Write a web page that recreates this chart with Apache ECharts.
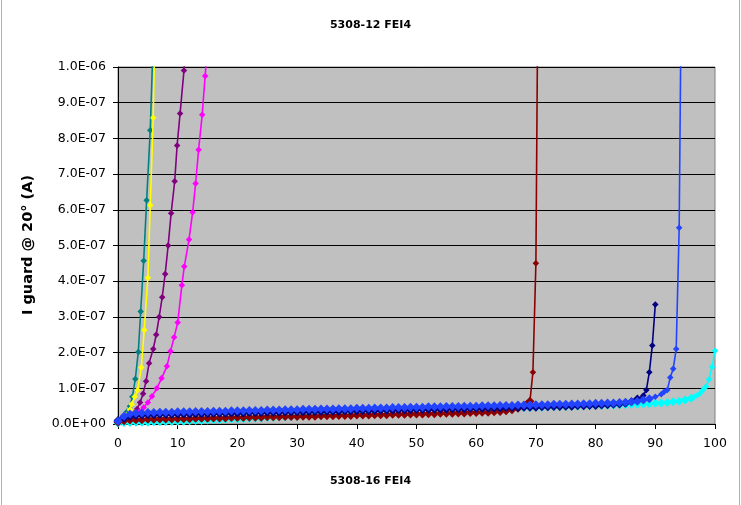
<!DOCTYPE html>
<html><head><meta charset="utf-8">
<script src="https://cdn.jsdelivr.net/npm/echarts@6/dist/echarts.min.js"></script>
<style>html,body{margin:0;padding:0;background:#fff}#c{width:741px;height:505px}</style>
</head><body><div id="c"></div>
<script>
// Currents in nA, voltages in V
const title = '5308-12 FEI4';
const xName = '5308-16 FEI4';
const yName = 'I guard @ 20° (A)';
const yTickLabels = ['0.0E+00','1.0E-07','2.0E-07','3.0E-07','4.0E-07','5.0E-07','6.0E-07','7.0E-07','8.0E-07','9.0E-07','1.0E-06'];
const xTickLabels = ['0','10','20','30','40','50','60','70','80','90','100'];

const tealV = [0,0.5,1,1.5,2,2.4,2.9,3.4,3.8,4.3,4.8,5.4,5.9];
const tealI = [8,14,22,34,50,76,126,202,315,457,627,823,1080];

const yellowV = [0,0.5,1,1.5,2,2.3,2.8,3.3,3.9,4.4,5,5.4,5.9,6.4];
const yellowI = [5,10,16,25,40,55,76,95,158,263,410,613,858,1300];

const purpleV = [0.2,0.7,1.2,1.7,2.2,2.7,3.2,3.7,4.2,4.7,5.2,5.9,6.4,6.9,7.4,7.9,8.4,8.9,9.5,9.9,10.4,11.05,11.5];
const purpleI = [3,6,9,14,20,30,42,60,85,120,170,210,250,300,355,420,500,590,680,780,870,990,1120];

const magentaV = [0,0.6,1.2,1.8,2.4,3,3.6,4.3,5,5.7,6.5,7.3,8.2,8.8,9.4,10,10.7,11.1,11.9,12.5,13,13.5,14.1,14.6,15.1];
const magentaI = [3,5,8,13,19,26,35,46,60,78,100,128,162,204,243,284,389,441,517,593,674,768,866,975,1090];

const redV = [0,1,2,3,4,5,6,7,8,9,10,11,12,13,14,15,16,17,18,19,20,21,22,23,24,25,26,27,28,29,30,31,32,33,34,35,36,37,38,39,40,41,42,43,44,45,46,47,48,49,50,51,52,53,54,55,56,57,58,59,60,61,62,63,64,65,66,67,68,68.5,69,69.5,70,70.5];
const redI = [5,9,11,12,12,13,13,14,14,14, 15,15,15,16,16,16,17,17,17,18, 18,18,19,19,19,20,20,20,21,21, 21,22,22,22,23,23,23,24,24,24, 25,25,25,26,26,26,27,27,27,28, 28,28,29,29,30,30,30,31,31,32, 32,33,33,34,35,37,40,44,50, 55,64,145,450,1600];

const navyV = [0,1,2,3,4,5,6,7,8,9,10,11,12,13,14,15,16,17,18,19,20,21,22,23,24,25,26,27,28,29,30,31,32,33,34,35,36,37,38,39,40,41,42,43,44,45,46,47,48,49,50,51,52,53,54,55,56,57,58,59,60,61,62,63,64,65,66,67,68,69,70,71,72,73,74,75,76,77,78,79,80,81,82,83,84,85,86,87,88,88.5,89,89.5,90];
const navyI = [10,16,21,24,25,26,26,27,27,27, 28,28,28,29,29,29,30,30,30,31, 31,31,32,32,32,33,33,33,34,34, 34,34,35,35,35,36,36,36,37,37, 37,38,38,38,39,39,39,40,40,40, 41,41,41,42,42,42,43,43,43,44, 44,44,45,45,45,46,46,46,47,47, 47,48,48,49,49,50,50,51,51,52, 52,53,54,55,56,58,62,70,80, 95,145,220,335];

const cyanV = [0,1,2,3,4,5,6,7,8,9,10,11,12,13,14,15,16,17,18,19,20,21,22,23,24,25,26,27,28,29,30,31,32,33,34,35,36,37,38,39,40,41,42,43,44,45,46,47,48,49,50,51,52,53,54,55,56,57,58,59,60,61,62,63,64,65,66,67,68,69,70,71,72,73,74,75,76,77,78,79,80,81,82,83,84,85,86,87,88,89,90,91,92,93,94,95,96,96.5,97,97.5,98,98.5,99,99.5,100];
const cyanI = [3,4,4,5,5,5,6,6,7,7, 8,8,9,10,10,11,12,12,13,14, 14,15,16,17,17,18,19,20,20,21, 22,23,23,24,25,26,26,27,28,29, 29,30,31,31,32,33,33,34,35,35, 36,37,37,38,38,39,40,40,41,41, 42,42,43,43,44,44,45,45,46,46, 47,47,48,48,49,49,50,50,51,51, 52,52,53,53,54,54,55,55,56,57, 58,59,60,62,64,67,72, 76,80,86,96,105,125,160,205];

const blueV = [0,1,2,3,4,5,6,7,8,9,10,11,12,13,14,15,16,17,18,19,20,21,22,23,24,25,26,27,28,29,30,31,32,33,34,35,36,37,38,39,40,41,42,43,44,45,46,47,48,49,50,51,52,53,54,55,56,57,58,59,60,61,62,63,64,65,66,67,68,69,70,71,72,73,74,75,76,77,78,79,80,81,82,83,84,85,86,87,88,89,90,91,91.5,92,92.5,93,93.5,94,94.5];
const blueI = [8,22,28,30,31,32,32,33,33,33, 34,34,34,35,35,35,36,36,36,37, 37,37,38,38,38,39,39,39,40,40, 40,41,41,41,42,42,42,43,43,43, 44,44,44,45,45,45,46,46,46,47, 47,47,48,48,48,49,49,49,50,50, 50,51,51,51,52,52,52,53,53,53, 54,54,54,55,55,55,56,56,57,57, 58,58,59,59,60,61,62,64,67,71, 76,83, 90,95,130,155,210,550,1500];

const seriesDefs = [
  {name:'teal', color:'#008080', V:tealV, I:tealI, dense:false},
  {name:'yellow', color:'#FFFF00', V:yellowV, I:yellowI, dense:false},
  {name:'purple', color:'#800080', V:purpleV, I:purpleI, dense:false},
  {name:'magenta', color:'#FF00FF', V:magentaV, I:magentaI, dense:false},
  {name:'cyan', color:'#00FFFF', V:cyanV, I:cyanI, dense:true},
  {name:'darkred', color:'#8B0000', V:redV, I:redI, dense:true},
  {name:'navy', color:'#000080', V:navyV, I:navyI, dense:true},
  {name:'blue', color:'#2244FF', V:blueV, I:blueI, dense:true}
];

const chart = echarts.init(document.getElementById('c'), null, {renderer:'canvas'});
const lblFont = {fontFamily:'DejaVu Sans', fontSize:12.5, color:'#000'};
chart.setOption({
  animation:false,
  backgroundColor:'#fff',
  title:[
    {text:title, left:'center', top:15, textStyle:{fontFamily:'DejaVu Sans', fontWeight:'bold', fontSize:11, color:'#000'}},
    {text:xName, left:'center', top:471, textStyle:{fontFamily:'DejaVu Sans', fontWeight:'bold', fontSize:11, color:'#000'}}
  ],
  grid:{left:118, right:26, top:67, bottom:81, show:true, backgroundColor:'#C0C0C0', borderColor:'#808080', borderWidth:1},
  xAxis:{type:'value', min:0, max:100, interval:10,
    axisLine:{show:true, onZero:false, lineStyle:{color:'#000', width:1}},
    axisTick:{show:true, inside:false, length:5, lineStyle:{color:'#000'}},
    axisLabel:{...lblFont, margin:13, formatter:(v)=>xTickLabels[Math.round(v/10)]},
    splitLine:{show:false}},
  yAxis:{type:'value', min:0, max:1000, interval:100,
    axisLine:{show:true, onZero:false, lineStyle:{color:'#000', width:1}},
    axisTick:{show:true, inside:false, length:5, lineStyle:{color:'#000'}},
    axisLabel:{...lblFont, margin:12, formatter:(v)=>yTickLabels[Math.round(v/100)]},
    splitLine:{show:true, lineStyle:{color:'#000', width:1.2}}},
  graphic:[
    {type:'text', x:28, y:245, rotation:Math.PI/2,
      style:{text:yName, fontFamily:'DejaVu Sans', fontWeight:'bold', fontSize:14.5, fill:'#000', align:'center', verticalAlign:'middle'}},
    {type:'line', shape:{x1:1.5, y1:0, x2:1.5, y2:505}, style:{stroke:'#b0b0b0', lineWidth:1}},
    {type:'line', shape:{x1:739.5, y1:0, x2:739.5, y2:505}, style:{stroke:'#b0b0b0', lineWidth:1}}
  ],
  series: seriesDefs.map((s, k) => ({
    name:s.name, type:'line', data:s.V.map((v,i)=>[v, s.I[i]]),
    symbol:'diamond',
    symbolSize: s.dense ? ((val)=> val[1] < 75 ? 9 : 6.5) : 6.5,
    showSymbol:true, clip:true, z:2+k,
    itemStyle:{color:s.color}, lineStyle:{color:s.color, width:1.6}
  }))
});
</script></body></html>
